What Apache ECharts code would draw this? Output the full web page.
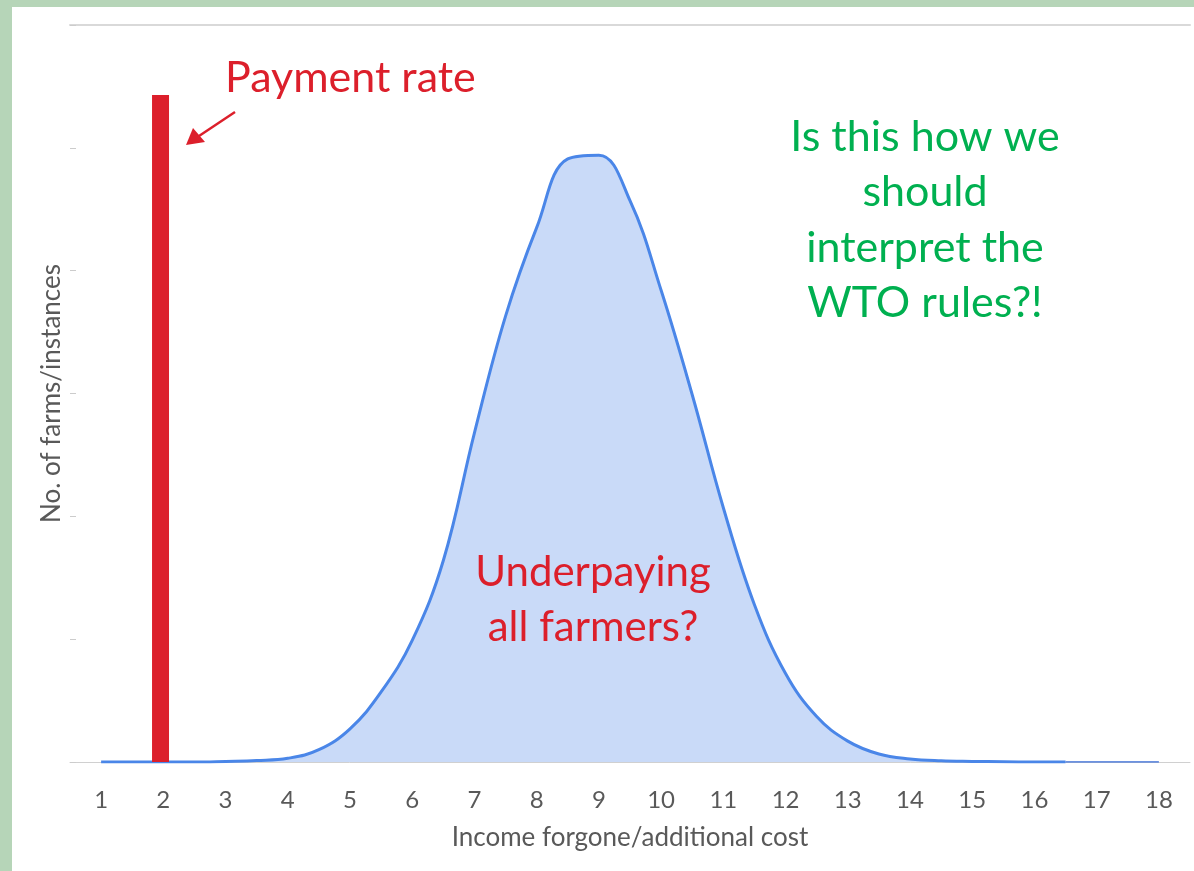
<!DOCTYPE html>
<html>
<head>
<meta charset="utf-8">
<script src="https://cdn.jsdelivr.net/npm/echarts@6/dist/echarts.min.js"></script>
<style>
  html, body { margin: 0; padding: 0; background: #b6d5b8; }
  #main { position: absolute; left: 12px; top: 7px; width: 1182px; height: 864px; background: #fff; }
</style>
</head>
<body>
<div id="main"></div>
<script>
// x tick labels
const xTicks = [1, 2, 3, 4, 5, 6, 7, 8, 9, 10, 11, 12, 13, 14, 15, 16, 17, 18]
// distribution curve (every half unit)
const curveX = [1, 1.5, 2, 2.5, 3, 3.5, 4, 4.5, 5, 5.5, 6, 6.5, 7, 7.5, 8, 8.5, 9, 9.5, 10, 10.5, 11, 11.5, 12, 12.5, 13, 13.5, 14, 14.5, 15, 15.5, 16, 16.5]
const curveY = [0, 0, 0, 0, 0.005, 0.012, 0.03, 0.1, 0.27, 0.57, 0.99, 1.64, 2.68, 3.63, 4.35, 4.91, 4.94, 4.57, 3.84, 2.99, 2.07, 1.28, 0.72, 0.37, 0.17, 0.065, 0.025, 0.01, 0.005, 0.002, 0, 0]
// thin tail of the line
const tailX = [16.5, 17.5, 18]
const tailY = [0, 0, 0]
// payment rate bar
const payX = [1.955]
const payY = [5.43]

const font = 'Lato'
const red = '#dc1f2b'
const green = '#00b050'
const grey = '#595959'

const myChart = echarts.init(document.getElementById('main'))
myChart.setOption({
  animation: false,
  textStyle: { fontFamily: font },
  grid: { left: 58, top: 18, right: 4, bottom: 109 },
  xAxis: [
    {
      type: 'value',
      min: 0.5,
      max: 18.5,
      name: 'Income forgone/additional cost',
      nameLocation: 'middle',
      nameGap: 63,
      nameTextStyle: { fontSize: 26, color: grey, fontFamily: font },
      axisLine: { show: true, lineStyle: { color: '#d0d0d0', width: 1 } },
      axisTick: { show: false },
      splitLine: { show: false },
      axisLabel: {
        customValues: xTicks,
        fontSize: 24,
        color: grey,
        margin: 26,
        fontFamily: font
      }
    },
    {
      type: 'value',
      position: 'top',
      min: 0.5,
      max: 18.5,
      axisLine: { show: true, lineStyle: { color: '#d9d9d9', width: 2 } },
      axisTick: { show: false },
      axisLabel: { show: false },
      splitLine: { show: false }
    }
  ],
  yAxis: {
    type: 'value',
    min: 0,
    max: 6,
    interval: 1,
    name: 'No. of farms/instances',
    nameLocation: 'middle',
    nameGap: 5,
    nameTextStyle: { fontSize: 26, color: grey, fontFamily: font },
    axisLine: { show: false },
    axisTick: { show: true, inside: true, length: 6, lineStyle: { color: '#cccccc' } },
    axisLabel: { show: false },
    splitLine: { show: false }
  },
  series: [
    {
      type: 'line',
      data: curveX.map((x, i) => [x, curveY[i]]),
      smooth: 0.4,
      showSymbol: false,
      lineStyle: { color: '#4a86e8', width: 3 },
      areaStyle: { color: '#c9daf8', opacity: 1 },
      z: 2
    },
    {
      type: 'line',
      data: tailX.map((x, i) => [x, tailY[i]]),
      showSymbol: false,
      lineStyle: { color: '#3c6fd8', width: 1.5 },
      z: 2
    },
    {
      type: 'bar',
      data: payX.map((x, i) => [x, payY[i]]),
      barWidth: 17,
      itemStyle: { color: red },
      z: 3
    }
  ],
  graphic: [
    {
      type: 'text',
      left: 213,
      top: 50,
      z: 100,
      style: { text: 'Payment rate', fill: red, font: '43px ' + font }
    },
    {
      type: 'line',
      z: 100,
      shape: { x1: 223, y1: 105, x2: 184, y2: 131 },
      style: { stroke: red, lineWidth: 2.5 }
    },
    {
      type: 'polygon',
      z: 100,
      shape: { points: [[174, 138], [181, 121], [193, 135]] },
      style: { fill: red }
    },
    {
      type: 'text',
      x: 913,
      y: 102,
      z: 100,
      style: {
        text: 'Is this how we\nshould\ninterpret the\nWTO rules?!',
        fill: green,
        font: '43px ' + font,
        lineHeight: 55.5,
        align: 'center',
        verticalAlign: 'top'
      }
    },
    {
      type: 'text',
      x: 581,
      y: 538,
      z: 100,
      style: {
        text: 'Underpaying\nall farmers?',
        fill: red,
        font: '42px ' + font,
        lineHeight: 55,
        align: 'center',
        verticalAlign: 'top'
      }
    }
  ]
})
</script>
</body>
</html>
